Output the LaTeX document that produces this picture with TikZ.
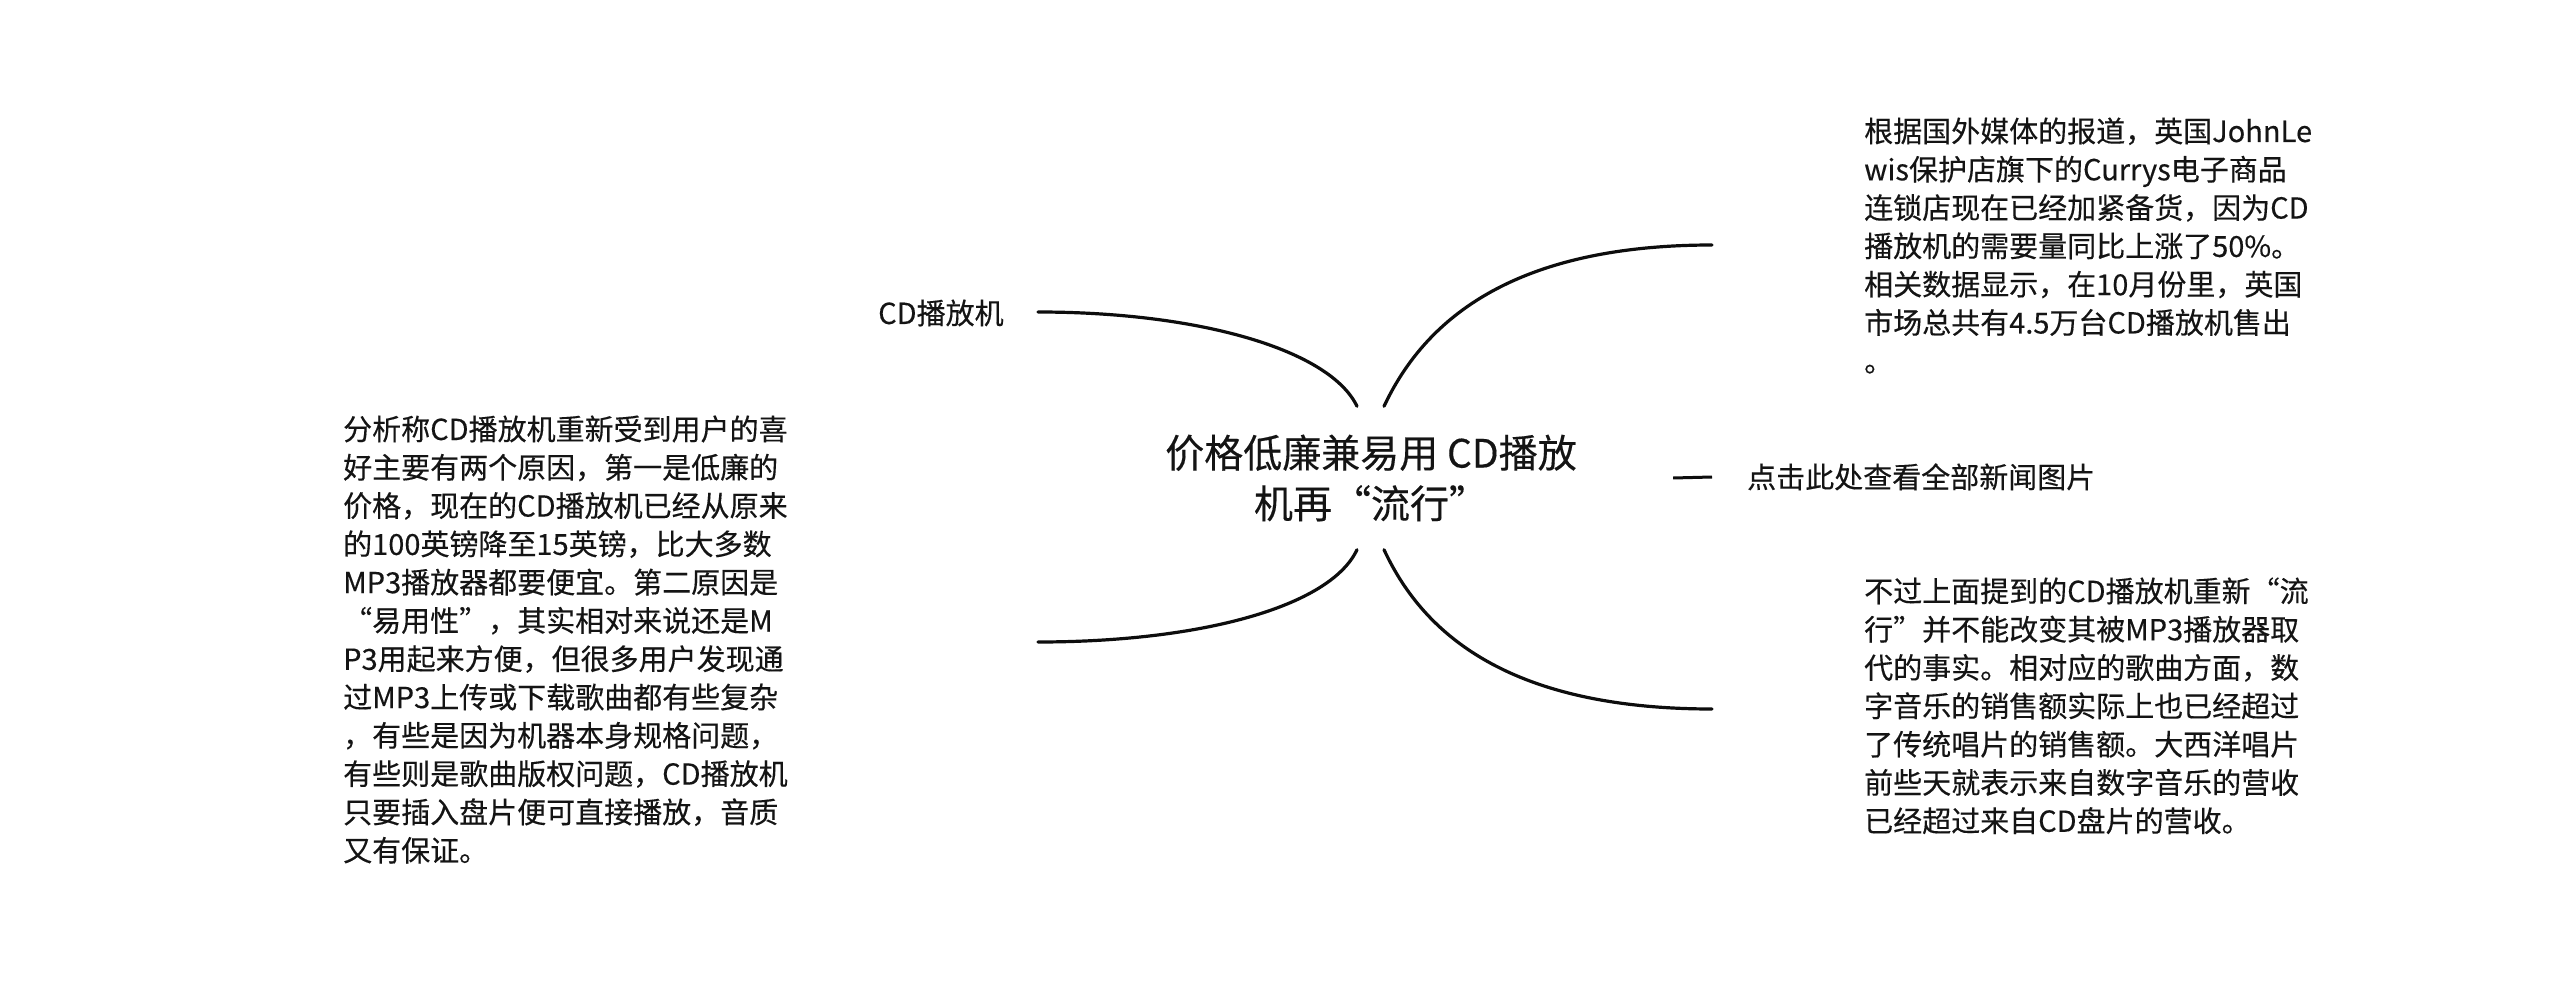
\documentclass[tikz,border=0pt]{standalone}
\usepackage{fontspec}
\setmainfont{Noto Sans CJK SC}
\newfontfamily\tfont{Noto Sans CJK SC}[FakeBold=0.3]
\begin{document}
\begin{tikzpicture}[x=1pt,y=-1pt,
  body/.style={inner sep=0pt, anchor=base west, align=left, text width=560pt,
    font=\tfont\fontsize{29}{38.3}\selectfont, text=black!92},
  short/.style={inner sep=0pt, anchor=base west,
    font=\tfont\fontsize{29}{38.3}\selectfont, text=black!92},
  link/.style={line width=3.2pt, line cap=round, black!95},
]
\useasboundingbox[fill=white] (0,0) rectangle (2560,984);

% central topic
\node[inner sep=0pt, minimum width=604pt, minimum height=143pt, align=center,
  font=\tfont\fontsize{39}{50.6}\selectfont, text=black!92] (c) at (1371,478)
  {价格低廉兼易用 CD播放\\机再“流行”};

% children
\node[short] (cd) at (878,324) {CD播放机};
\node[short] (click) at (1747,488) {点击此处查看全部新闻图片};

\node[body] (rt) at (1864,142) {根据国外媒体的报道，英国JohnLe\\
wis保护店旗下的Currys电子商品\\
连锁店现在已经加紧备货，因为CD\\
播放机的需要量同比上涨了50\%。\\
相关数据显示，在10月份里，英国\\
市场总共有4.5万台CD播放机售出\\
。};

\node[body] (rb) at (1864,602) {不过上面提到的CD播放机重新“流\\
行”并不能改变其被MP3播放器取\\
代的事实。相对应的歌曲方面，数\\
字音乐的销售额实际上也已经超过\\
了传统唱片的销售额。大西洋唱片\\
前些天就表示来自数字音乐的营收\\
已经超过来自CD盘片的营收。};

\node[body] (lb) at (343,440) {分析称CD播放机重新受到用户的喜\\
好主要有两个原因，第一是低廉的\\
价格，现在的CD播放机已经从原来\\
的100英镑降至15英镑，比大多数\\
MP3播放器都要便宜。第二原因是\\
“易用性”，其实相对来说还是M\\
P3用起来方便，但很多用户发现通\\
过MP3上传或下载歌曲都有些复杂\\
，有些是因为机器本身规格问题，\\
有些则是歌曲版权问题，CD播放机\\
只要插入盘片便可直接播放，音质\\
又有保证。};

% connector end points
\coordinate (cdE) at (1038,312);
\coordinate (lbE) at (1038,642);
\coordinate (rtE) at (1712,245);
\coordinate (rbE) at (1712,709);
\coordinate (clickE) at (1712,477);

% connectors
\draw[link] ([xshift=-14pt]c.north) .. controls (1330,350) and (1200,312) .. (cdE);
\draw[link] ([xshift=-14pt]c.south) .. controls (1330,607) and (1200,642) .. (lbE);
\draw[link] ([xshift=13pt]c.north) .. controls (1420,330) and (1500,245) .. (rtE);
\draw[link] ([xshift=13pt]c.south) .. controls (1420,627) and (1500,709) .. (rbE);
\draw[link, line width=3pt, line cap=butt] (c.east) -- (clickE);
\end{tikzpicture}
\end{document}
